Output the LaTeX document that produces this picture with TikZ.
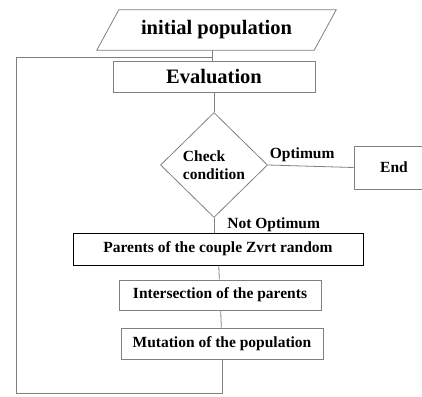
\documentclass[tikz,border=0pt]{standalone}
\usepackage{fontspec}
\setmainfont{Liberation Serif}
\usetikzlibrary{shapes.geometric}

\begin{document}
\begin{tikzpicture}[x=1pt, y=-1pt, font=\bfseries, every node/.style={inner sep=0pt},
    link/.style={draw=gray, line width=0.8pt},
    stepbox/.style={draw=gray, line width=0.8pt, minimum width=202pt, minimum height=31pt},
    bigtext/.style={font=\bfseries\fontsize{20.5}{22}\selectfont},
    smalltext/.style={font=\bfseries\fontsize{15.5}{18}\selectfont}]
\useasboundingbox (0,0) rectangle (422,396);
\node[minimum width=217pt, minimum height=40pt, bigtext] (init) at (216.5,30) {initial population};
\draw[link] ([xshift=-11pt]init.south west) -- ([xshift=-11pt]init.south east) -- ([xshift=11pt]init.north east) -- ([xshift=11pt]init.north west) -- cycle;
\node[stepbox, bigtext] (eval) at (214,76.5) {Evaluation};
\node[draw=gray, line width=0.8pt, diamond, aspect=1.02, minimum width=107pt, minimum height=105pt, align=left, smalltext] (cond) at (214,165) {Check\\condition};
\node[stepbox, minimum width=80pt, minimum height=43pt, smalltext] (end) at (394,167.5) {End};
\node[stepbox, draw=black, minimum width=290pt, minimum height=32pt, smalltext] (par) at (218,249) {Parents of the couple Zvrt random};
\node[stepbox, minimum height=30pt, smalltext] (cross) at (220,295) {Intersection of the parents};
\node[stepbox, smalltext] (mut) at (222,343.5) {Mutation of the population};
\coordinate (bl) at (16,393);
\coordinate (tl) at (16,57);
\draw[link] ([xshift=-4pt]init.south) -- ([xshift=-4pt]init.south |- eval.north);
\draw[link] (eval) -- (cond);
\draw[link] (cond.east) -- node[above=4pt, pos=0.4, smalltext] {Optimum} (end.west);
\draw[link] (cond.south) -- node[right=13pt, smalltext] {Not Optimum} (par.north -| cond.south);
\draw[link] (par) -- (cross);
\draw[link] (cross) -- (mut);
\draw[link] (mut.south) |- (bl) -- (tl) -| ([xshift=-4pt]init.south);
\end{tikzpicture}
\end{document}
